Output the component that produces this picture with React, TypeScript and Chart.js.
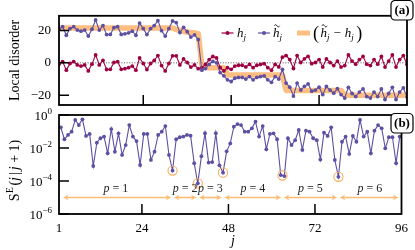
import { useEffect, useRef } from "react";
import { Chart, registerables } from "chart.js";

Chart.register(...registerables);

const FONT = '"Liberation Serif", "DejaVu Serif", serif';
const CRIMSON = "#9e0142";
const PURPLE = "#5e4fa2";
const ORANGE_LINE = "rgba(253, 174, 97, 0.8)";
const ORANGE_ARROW = "#fbbd74";
const ORANGE_CIRCLE = "#f7ac5a";

// site index j
const sites = Array.from({ length: 96 }, (_, i) => i + 1);

// h_j : bare random disorder
const hDisorder = [
  -0.8, 0.8, -4.5, -0.4, 0.8, -1.3, -2, -1.3, -5, -0.8,
  4.9, -1.3, 1.5, -4.1, -4, 0.2, 0.8, -4, -3.6, -3,
  -2, -4.5, 3, -0.4, -4.1, -0.4, 1.5, 4.5, -1.7, -5,
  -0.4, 4.3, 4.3, -1.3, 2.4, 0.2, -2.6, -1.3, -3.6, -3,
  -1, 2, 3.9, 3, -3, -5, -3, -4, -2, -1.5,
  -1.5, -2.5, -1, -3, -1.5, -1, -0.5, -3, -4.5, -1,
  -2.5, 3.5, 4.5, 2, -3.5, 4.5, 0.2, 2.5, 4, -0.5,
  0.2, 2, -2.6, 2.4, 0.2, -1.7, 1.1, -2.6, -1.7, 4.9,
  1.1, -0.8, 2, 3.9, -0.8, -1.7, 2, -0.8, 3.9, -2.6,
  1.1, 4.9, -2.6, 2, 4.5, -1,
];

// tilde h_j : effective disorder
const hTilde = [
  20.7, 22.3, 17, 21.1, 22.3, 20.2, 19.5, 20.2, 16.5, 20.7,
  26.4, 20.2, 23, 17.4, 17.5, 21.7, 22.3, 17.5, 17.9, 18.5,
  19.5, 17, 24.5, 21.1, 17.4, 21.1, 23, 26, 19.8, 16.5,
  21.1, 25.8, 24.8, 18.7, 21.9, 19.2, 15.9, 17.2, 14.4, -4.5,
  -3.5, -1, 0.9, 0, -6, -8, -10.5, -11.5, -9.5, -9,
  -9, -10, -8.5, -10.5, -9, -8.5, -8, -10.5, -12, -8.5,
  -10, -4, -12.5, -15, -20.5, -12.5, -16.8, -14.5, -13, -17.5,
  -16.8, -15, -19.6, -14.6, -16.8, -18.7, -15.9, -19.6, -21.7, -15.1,
  -18.9, -20.8, -18, -16.1, -20.8, -21.7, -18, -20.8, -16.1, -22.6,
  -18.9, -15.1, -22.6, -18, -15.5, -21,
];

// (tilde h_j - h_j)
const hShift = [
  21.5, 21.5, 21.5, 21.5, 21.5, 21.5, 21.5, 21.5, 21.5, 21.5,
  21.5, 21.5, 21.5, 21.5, 21.5, 21.5, 21.5, 21.5, 21.5, 21.5,
  21.5, 21.5, 21.5, 21.5, 21.5, 21.5, 21.5, 21.5, 21.5, 21.5,
  21.5, 21.5, 20.5, 20, 19.5, 19, 18.5, 18.5, 18, -1.5,
  -2.5, -3, -3, -3, -3, -3, -7.5, -7.5, -7.5, -7.5,
  -7.5, -7.5, -7.5, -7.5, -7.5, -7.5, -7.5, -7.5, -7.5, -7.5,
  -7.5, -7.5, -17, -17, -17, -17, -17, -17, -17, -17,
  -17, -17, -17, -17, -17, -17, -17, -17, -20, -20,
  -20, -20, -20, -20, -20, -20, -20, -20, -20, -20,
  -20, -20, -20, -20, -20, -20,
];

// S^E(j|j+1) for bonds j = 1..95
const entanglement = [
  0.178, 0.0339, 0.0617, 0.0977, 0.501, 0.245, 0.55, 0.0537, 0.0708, 8.1e-4,
  0.0209, 0.0389, 0.049, 4.8e-3, 0.141, 6.0e-3, 0.0776, 3.8e-3, 0.0151, 0.245,
  0.049, 0.0263, 9.3e-4, 0.0708, 0.0708, 1.9e-3, 6.0e-3, 0.0617, 0.0977, 0.214,
  3.8e-3, 4.3e-4, 0.0339, 0.0447, 0.049, 0.0617, 0.0562, 1.2e-3, 7.2e-5, 3.2e-3,
  0.079, 1.3e-3, 1.4e-3, 0.079, 8.9e-4, 3.2e-4, 6.3e-3, 0.019, 0.195, 0.28,
  0.245, 0.098, 0.098, 0.155, 0.4, 0.049, 0.214, 8.3e-3, 0.071, 0.078,
  0.034, 2.3e-4, 2.0e-4, 0.039, 0.015, 0.03, 0.123, 7.6e-3, 0.112, 0.098,
  0.039, 0.03, 2.0e-3, 0.085, 0.054, 0.178, 1.9e-3, 1.8e-4, 0.024, 0.049,
  4.4e-3, 0.054, 0.024, 0.5, 0.049, 0.098, 4.8e-3, 0.112, 0.245, 0.155,
  9.5e-3, 0.045, 0.045, 1.2e-3, 0.049,
];
const bondPositions = entanglement.map((_, i) => i + 1.5);

// highlighted minima
const highlightX = [32.5, 39.5, 46.5, 63, 78.5];
const highlightY = [4.3e-4, 7.2e-5, 3.2e-4, 2.15e-4, 1.8e-4];

// partition blocks
const blockEdges = [1, 32.5, 39.5, 46.5, 63, 78.5, 96];
const blockNames = ["1", "2", "3", "4", "5", "6"];

const xTickValues = [1, 24, 48, 72, 96];
const xInnerTicks = [24, 48, 72];
const topTickValues = [-20, 0, 20];
const logTickExponents = [0, -2, -4, -6];

type Seg = { t: string; size?: number; it?: boolean; bold?: boolean; dy?: number; dx?: number; tilde?: boolean };
const segFont = (s: Seg) => `${s.it ? "italic " : ""}${s.bold ? "bold " : ""}${s.size ?? 13}px ${FONT}`;

function richWidth(ctx: CanvasRenderingContext2D, segs: Seg[]) {
  let w = 0;
  for (const s of segs) {
    ctx.font = segFont(s);
    w += (s.dx ?? 0) + ctx.measureText(s.t).width;
  }
  return w;
}

function drawRich(ctx: CanvasRenderingContext2D, segs: Seg[], x: number, y: number, align: "left" | "center" | "right" = "left") {
  const total = richWidth(ctx, segs);
  let cx = align === "left" ? x : align === "center" ? x - total / 2 : x - total;
  ctx.textAlign = "left";
  ctx.textBaseline = "alphabetic";
  for (const s of segs) {
    ctx.font = segFont(s);
    cx += s.dx ?? 0;
    const w = ctx.measureText(s.t).width;
    const by = y + (s.dy ?? 0);
    ctx.fillText(s.t, cx, by);
    if (s.tilde) {
      const size = s.size ?? 13;
      const tw = size * 0.42;
      const tcx = cx + w * 0.62;
      const ty = by - size * 0.86;
      ctx.save();
      ctx.lineWidth = 0.9;
      ctx.strokeStyle = ctx.fillStyle as string;
      ctx.beginPath();
      for (let k = 0; k <= 12; k++) {
        const t = k / 12;
        const px = tcx - tw / 2 + t * tw;
        const py = ty - Math.sin(t * 2 * Math.PI) * 1.1;
        if (k === 0) ctx.moveTo(px, py);
        else ctx.lineTo(px, py);
      }
      ctx.stroke();
      ctx.restore();
    }
    cx += w;
  }
}

function drawFrameAndTicks(chart: any, yTicks: number[]) {
  const { ctx, chartArea: a, scales } = chart;
  ctx.save();
  ctx.strokeStyle = "#000";
  ctx.lineWidth = 1.5;
  ctx.beginPath();
  for (const v of yTicks) {
    const py = scales.y.getPixelForValue(v);
    ctx.moveTo(a.left, py);
    ctx.lineTo(a.left + 10, py);
  }
  for (const v of xInnerTicks) {
    const px = scales.x.getPixelForValue(v);
    ctx.moveTo(px, a.bottom);
    ctx.lineTo(px, a.bottom - 10);
  }
  ctx.stroke();
  ctx.lineWidth = 1.8;
  ctx.strokeRect(a.left, a.top, a.right - a.left, a.bottom - a.top);
  ctx.restore();
}

function drawPanelTag(ctx: CanvasRenderingContext2D, text: string, x: number, y: number) {
  ctx.save();
  ctx.beginPath();
  (ctx as any).roundRect(x, y, 22, 19.5, 4);
  ctx.fillStyle = "#fff";
  ctx.fill();
  ctx.strokeStyle = "#000";
  ctx.lineWidth = 1.2;
  ctx.stroke();
  ctx.fillStyle = "#000";
  ctx.font = `bold 13px ${FONT}`;
  ctx.textAlign = "center";
  ctx.textBaseline = "middle";
  ctx.fillText(text, x + 11, y + 10.5);
  ctx.restore();
}

function legendLine(ctx: CanvasRenderingContext2D, x1: number, x2: number, y: number, color: string, width: number, marker: boolean) {
  ctx.save();
  ctx.strokeStyle = color;
  ctx.lineWidth = width;
  ctx.beginPath();
  ctx.moveTo(x1, y);
  ctx.lineTo(x2, y);
  ctx.stroke();
  if (marker) {
    ctx.fillStyle = color;
    ctx.beginPath();
    ctx.arc((x1 + x2) / 2, y, 2, 0, Math.PI * 2);
    ctx.fill();
  }
  ctx.restore();
}

const topDecor = {
  id: "topDecor",
  beforeDatasetsDraw(chart: any) {
    const { ctx, chartArea: a, scales } = chart;
    const y0 = scales.y.getPixelForValue(0);
    ctx.save();
    ctx.strokeStyle = "#222";
    ctx.lineWidth = 0.8;
    ctx.setLineDash([1, 1.6]);
    ctx.beginPath();
    ctx.moveTo(a.left, y0);
    ctx.lineTo(a.right, y0);
    ctx.stroke();
    ctx.restore();
  },
  afterDraw(chart: any) {
    const { ctx, chartArea: a } = chart;
    drawFrameAndTicks(chart, topTickValues);
    // legend
    const ly = 33;
    legendLine(ctx, 221.5, 233.5, ly, CRIMSON, 1.2, true);
    ctx.fillStyle = "#000";
    drawRich(ctx, [{ t: "h", it: true }, { t: "j", it: true, size: 9, dy: 2.5 }], 237, 37);
    legendLine(ctx, 258, 270, ly, PURPLE, 1.2, true);
    ctx.fillStyle = "#000";
    drawRich(ctx, [{ t: "h", it: true, tilde: true }, { t: "j", it: true, size: 9, dy: 2.5 }], 273, 37);
    legendLine(ctx, 297, 310, ly, ORANGE_LINE, 5, false);
    ctx.fillStyle = "#000";
    drawRich(
      ctx,
      [
        { t: "(", size: 18, dy: 1.5 },
        { t: "h", it: true, tilde: true, dx: 1.5 },
        { t: "j", it: true, size: 9, dy: 2.5 },
        { t: "−", dx: 4 },
        { t: "h", it: true, dx: 4 },
        { t: "j", it: true, size: 9, dy: 2.5 },
        { t: ")", size: 18, dy: 1.5, dx: 2.5 },
      ],
      313,
      37
    );
    // y title
    ctx.save();
    ctx.translate(14.5, (a.top + a.bottom) / 2);
    ctx.rotate(-Math.PI / 2);
    ctx.fillStyle = "#000";
    drawRich(ctx, [{ t: "Local disorder", size: 14 }], 0, 4.5, "center");
    ctx.restore();
    drawPanelTag(ctx, "(a)", 391, 0.5);
  },
};

const bottomDecor = {
  id: "bottomDecor",
  afterDraw(chart: any) {
    const { ctx, chartArea: a, scales } = chart;
    const yVals = logTickExponents.map((e) => Math.pow(10, e));
    drawFrameAndTicks(chart, yVals);
    // y tick labels 10^n
    ctx.fillStyle = "#000";
    for (const e of logTickExponents) {
      const py = scales.y.getPixelForValue(Math.pow(10, e));
      const exp = e < 0 ? `−${-e}` : `${e}`;
      drawRich(ctx, [{ t: "10" }, { t: exp, size: 9, dy: -6 }], 52, py + 4.5, "right");
    }
    // arrows and block labels
    const ay = scales.y.getPixelForValue(1e-5);
    ctx.save();
    ctx.strokeStyle = ORANGE_ARROW;
    ctx.fillStyle = ORANGE_ARROW;
    ctx.lineWidth = 1.6;
    for (let i = 0; i < blockNames.length; i++) {
      const l = scales.x.getPixelForValue(blockEdges[i]) + (i === 0 ? 4 : 1.3);
      const r = scales.x.getPixelForValue(blockEdges[i + 1]) - (i === blockNames.length - 1 ? 3 : 1.3);
      ctx.beginPath();
      ctx.moveTo(l + 3, ay);
      ctx.lineTo(r - 3, ay);
      ctx.stroke();
      ctx.beginPath();
      ctx.moveTo(l, ay);
      ctx.lineTo(l + 5.5, ay - 2.8);
      ctx.lineTo(l + 4, ay);
      ctx.lineTo(l + 5.5, ay + 2.8);
      ctx.closePath();
      ctx.fill();
      ctx.beginPath();
      ctx.moveTo(r, ay);
      ctx.lineTo(r - 5.5, ay - 2.8);
      ctx.lineTo(r - 4, ay);
      ctx.lineTo(r - 5.5, ay + 2.8);
      ctx.closePath();
      ctx.fill();
    }
    ctx.restore();
    ctx.fillStyle = "#222";
    for (let i = 0; i < blockNames.length; i++) {
      const cx = (scales.x.getPixelForValue(blockEdges[i]) + scales.x.getPixelForValue(blockEdges[i + 1])) / 2;
      drawRich(ctx, [{ t: "p", it: true, size: 12 }, { t: " = " + blockNames[i], size: 12 }], cx, ay - 6, "center");
    }
    // y title
    ctx.save();
    ctx.translate(14.5, (a.top + a.bottom) / 2 + 6);
    ctx.rotate(-Math.PI / 2);
    ctx.fillStyle = "#000";
    drawRich(
      ctx,
      [
        { t: "S", size: 14 },
        { t: "E", size: 9.5, dy: -6, dx: 0.5 },
        { t: "(", size: 14, dx: 1.5 },
        { t: "j", it: true, size: 14 },
        { t: "|", size: 14, dx: 2 },
        { t: "j", it: true, size: 14, dx: 2 },
        { t: "+", size: 14, dx: 3.5 },
        { t: "1", size: 14, dx: 3.5 },
        { t: ")", size: 14 },
      ],
      0,
      4.5,
      "center"
    );
    ctx.restore();
    // x title
    ctx.fillStyle = "#000";
    drawRich(ctx, [{ t: "j", it: true, size: 14 }], 233, 245, "center");
    drawPanelTag(ctx, "(b)", 391, 113.5);
  },
};

export default function App() {
  const topRef = useRef<HTMLCanvasElement>(null);
  const botRef = useRef<HTMLCanvasElement>(null);

  useEffect(() => {
    const top = new Chart(topRef.current as HTMLCanvasElement, {
      type: "line",
      data: {
        datasets: [
          {
            label: "tilde h",
            data: sites.map((x, i) => ({ x, y: hTilde[i] })),
            borderColor: PURPLE,
            backgroundColor: PURPLE,
            borderWidth: 1.1,
            pointRadius: 1.9,
            pointBorderWidth: 0,
            order: 0,
          },
          {
            label: "h",
            data: sites.map((x, i) => ({ x, y: hDisorder[i] })),
            borderColor: CRIMSON,
            backgroundColor: CRIMSON,
            borderWidth: 1.1,
            pointRadius: 1.9,
            pointBorderWidth: 0,
            order: 1,
          },
          {
            label: "shift",
            data: sites.map((x, i) => ({ x, y: hShift[i] })),
            borderColor: ORANGE_LINE,
            borderWidth: 5.5,
            pointRadius: 0,
            borderJoinStyle: "round",
            order: 2,
          },
        ],
      },
      options: {
        animation: false,
        responsive: false,
        layout: { padding: { left: 0, right: 8, top: 7, bottom: 145 } },
        plugins: { legend: { display: false }, tooltip: { enabled: false } },
        scales: {
          x: { type: "linear", min: 1, max: 96, display: false },
          y: {
            type: "linear",
            min: -26,
            max: 29,
            afterFit: (s: any) => {
              s.width = 59;
            },
            afterBuildTicks: (s: any) => {
              s.ticks = topTickValues.map((value) => ({ value }));
            },
            grid: { display: false, drawTicks: false },
            border: { display: false },
            ticks: {
              padding: 8,
              color: "#000",
              font: { family: FONT, size: 13 },
              callback: (v: any) => (Number(v) < 0 ? `−${-Number(v)}` : `${v}`),
            },
          },
        },
      },
      plugins: [topDecor],
    });

    const bottom = new Chart(botRef.current as HTMLCanvasElement, {
      type: "line",
      data: {
        datasets: [
          {
            label: "SE",
            data: bondPositions.map((x, i) => ({ x, y: entanglement[i] })),
            borderColor: PURPLE,
            backgroundColor: PURPLE,
            borderWidth: 1.1,
            pointRadius: 1.9,
            pointBorderWidth: 0,
            order: 1,
          },
          {
            type: "scatter",
            label: "minima",
            data: highlightX.map((x, i) => ({ x, y: highlightY[i] })),
            borderColor: ORANGE_CIRCLE,
            backgroundColor: "rgba(0,0,0,0)",
            borderWidth: 1.1,
            pointRadius: 4.6,
            showLine: false,
            order: 0,
          } as any,
        ],
      },
      options: {
        animation: false,
        responsive: false,
        layout: { padding: { left: 0, right: 8, top: 115, bottom: 0 } },
        plugins: { legend: { display: false }, tooltip: { enabled: false } },
        scales: {
          x: {
            type: "linear",
            min: 1,
            max: 96,
            afterFit: (s: any) => {
              s.height = 36;
            },
            afterBuildTicks: (s: any) => {
              s.ticks = xTickValues.map((value) => ({ value }));
            },
            grid: { display: false, drawTicks: false },
            border: { display: false },
            ticks: {
              padding: 7,
              color: "#000",
              maxRotation: 0,
              autoSkip: false,
              font: { family: FONT, size: 13 },
              callback: (v: any) => `${v}`,
            },
          },
          y: {
            type: "logarithmic",
            min: 1e-6,
            max: 1,
            afterFit: (s: any) => {
              s.width = 59;
            },
            grid: { display: false, drawTicks: false },
            border: { display: false },
            ticks: { display: false },
          },
        },
      },
      plugins: [bottomDecor],
    });

    return () => {
      top.destroy();
      bottom.destroy();
    };
  }, []);

  return (
    <div style={{ position: "fixed", left: 0, top: 0, width: 415, height: 250, background: "#fff" }}>
      <canvas ref={topRef} width={415} height={250} style={{ position: "absolute", left: 0, top: 0 }} />
      <canvas ref={botRef} width={415} height={250} style={{ position: "absolute", left: 0, top: 0 }} />
    </div>
  );
}
